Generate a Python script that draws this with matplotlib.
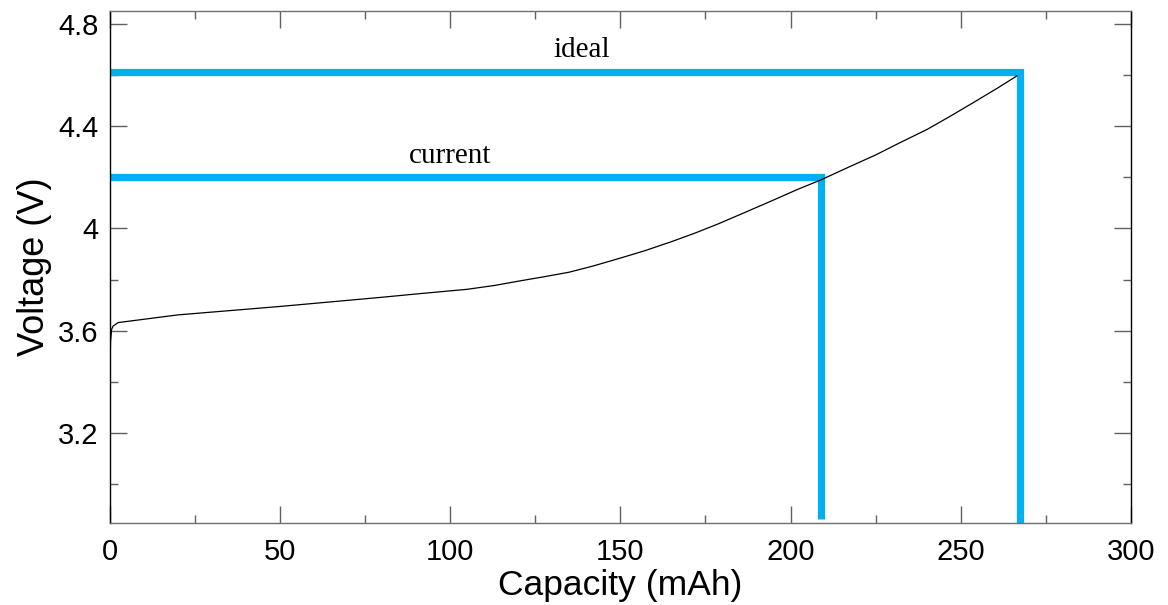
import numpy as np
import matplotlib.pyplot as plt
from matplotlib.ticker import MultipleLocator

# charge curve (capacity in mAh, voltage in V)
capacity = [0.0, 0.1, 0.3, 0.6, 1.0, 2.5, 20, 50, 65, 80, 91, 105, 113, 121,
            128, 135, 142, 150, 157, 165, 172, 179, 186, 194, 202, 209, 217,
            225, 232, 240, 247, 254, 261, 266.5]
voltage = [3.30, 3.45, 3.56, 3.605, 3.618, 3.632, 3.662, 3.695, 3.713, 3.731,
           3.745, 3.762, 3.777, 3.796, 3.812, 3.829, 3.853, 3.884, 3.912,
           3.948, 3.982, 4.019, 4.059, 4.105, 4.152, 4.190, 4.239, 4.287,
           4.334, 4.386, 4.439, 4.494, 4.550, 4.596]

# cut-off markers
cut_names = ['current', 'ideal']
cut_cap = [209.0, 267.5]
cut_volt = [4.20, 4.61]
cut_floor = [2.866, 2.85]
label_x = [100.0, 138.7]
label_y = [4.255, 4.671]

blue = '#00B0F0'

fig = plt.figure(figsize=(11.68, 6.05), dpi=100)
ax = fig.add_axes([0.0938, 0.136, 0.8745, 0.846])

for c, v, f in zip(cut_cap, cut_volt, cut_floor):
    ax.plot([0, c, c], [v, v, f], color=blue, lw=5.2,
            solid_joinstyle='miter', solid_capstyle='butt', zorder=2)

ax.plot(capacity, voltage, color='black', lw=0.9, zorder=3)

for name, x, y in zip(cut_names, label_x, label_y):
    ax.text(x, y, name, ha='center', va='baseline', fontsize=21,
            family='Liberation Serif')

ax.set_xlim(0, 300)
ax.set_ylim(2.85, 4.85)
ax.xaxis.set_major_locator(MultipleLocator(50))
ax.xaxis.set_minor_locator(MultipleLocator(25))
ax.yaxis.set_major_locator(MultipleLocator(0.4))
ax.yaxis.set_minor_locator(MultipleLocator(0.2))
ax.set_yticks([3.2, 3.6, 4.0, 4.4, 4.8])
ax.set_yticklabels(['3.2', '3.6', '4', '4.4', '4.8'])

ax.tick_params(which='both', direction='in', top=True, right=True,
               color='#606060', width=1.0, labelsize=21)
ax.tick_params(which='major', length=12)
ax.tick_params(which='minor', length=6)
ax.tick_params(axis='x', pad=11)
ax.tick_params(axis='y', pad=8)
for lab in ax.get_xticklabels() + ax.get_yticklabels():
    lab.set_family('Liberation Sans')

for side in ['top', 'bottom']:
    ax.spines[side].set_color('#707070')
for side in ['left', 'right']:
    ax.spines[side].set_color('black')
for s in ax.spines.values():
    s.set_linewidth(1.0)

ax.set_xlabel('Capacity (mAh)', fontsize=25.5, family='Liberation Sans',
              labelpad=2)
ax.set_ylabel('Voltage (V)', fontsize=26, family='Liberation Sans',
              labelpad=4)

fig.savefig('out.png', dpi=100)
